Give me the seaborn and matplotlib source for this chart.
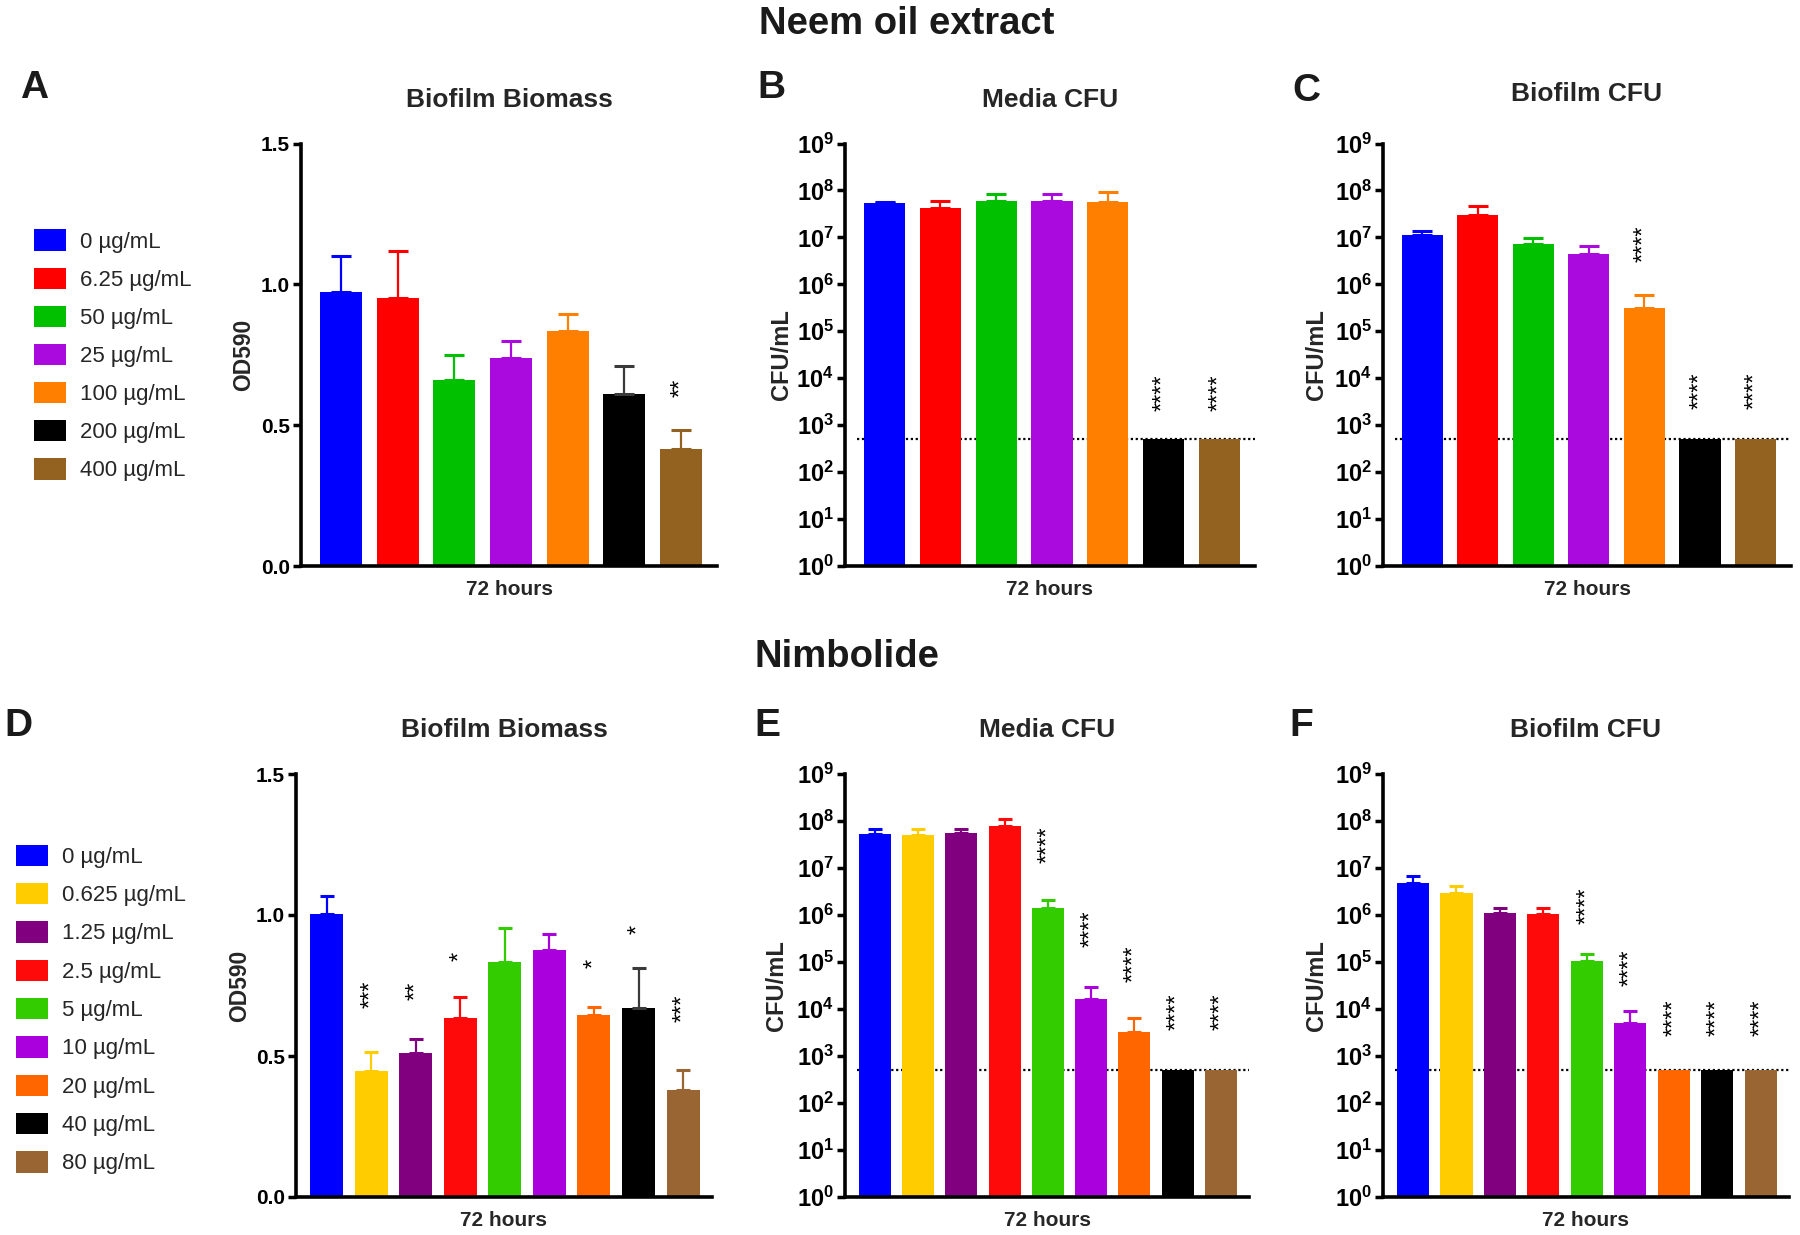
import numpy as np
import pandas as pd
import matplotlib
matplotlib.use('Agg')
import matplotlib.pyplot as plt
import seaborn as sns
from matplotlib.patches import Patch
from matplotlib.ticker import NullLocator, FuncFormatter, FixedLocator

sns.set_theme(style='white')
plt.rcParams['font.family'] = ['Liberation Sans', 'DejaVu Sans']
plt.rcParams['mathtext.fontset'] = 'custom'
plt.rcParams['mathtext.rm'] = 'Liberation Sans'
plt.rcParams['mathtext.bf'] = 'Liberation Sans:bold'
plt.rcParams['mathtext.it'] = 'Liberation Sans:italic'

# ---------------- data ----------------
neem_labels = ['0 µg/mL', '6.25 µg/mL', '50 µg/mL', '25 µg/mL',
               '100 µg/mL', '200 µg/mL', '400 µg/mL']
neem_colors = ['#0000FF', '#FF0000', '#00C000', '#AA0ADE',
               '#FF8000', '#000000', '#936220']
neem_biomass = [0.972, 0.950, 0.662, 0.739, 0.834, 0.610, 0.415]
neem_biomass_sd = [0.128, 0.169, 0.087, 0.061, 0.059, 0.099, 0.069]
neem_media = [5.3e7, 4.2e7, 6.0e7, 5.9e7, 5.6e7, 500, 500]
neem_media_sd = [0.3e7, 1.7e7, 2.3e7, 2.7e7, 3.6e7, 0, 0]
neem_biofilm = [1.12e7, 2.95e7, 7.1e6, 4.5e6, 3.2e5, 500, 500]
neem_biofilm_sd = [0.27e7, 1.75e7, 2.4e6, 2.1e6, 2.6e5, 0, 0]

nimb_labels = ['0 µg/mL', '0.625 µg/mL', '1.25 µg/mL', '2.5 µg/mL', '5 µg/mL',
               '10 µg/mL', '20 µg/mL', '40 µg/mL', '80 µg/mL']
nimb_colors = ['#0000FF', '#FFCC00', '#800080', '#FF0A0A', '#33CC00',
               '#AA00DD', '#FF6600', '#000000', '#996633']
nimb_biomass = [1.005, 0.447, 0.509, 0.635, 0.834, 0.876, 0.647, 0.669, 0.381]
nimb_biomass_sd = [0.064, 0.068, 0.052, 0.074, 0.119, 0.055, 0.025, 0.142, 0.071]
nimb_media = [5.4e7, 5.0e7, 5.6e7, 7.9e7, 1.39e6, 1.67e4, 3.3e3, 500, 500]
nimb_media_sd = [1.2e7, 1.9e7, 1.3e7, 3.1e7, 0.71e6, 1.33e4, 3.0e3, 0, 0]
nimb_biofilm = [4.7e6, 2.9e6, 1.1e6, 1.07e6, 1.07e5, 5.0e3, 500, 500, 500]
nimb_biofilm_sd = [1.9e6, 1.2e6, 0.33e6, 0.32e6, 0.38e5, 3.9e3, 0, 0, 0]

detection_limit = 500

stars_A = [(6, 0.633, '**')]
stars_B = [(5, 4.9e3, '****'), (6, 4.9e3, '****')]
stars_C = [(4, 7.4e6, '****'), (5, 5.5e3, '****'), (6, 5.5e3, '****')]
stars_D = [(1, 0.72, '***'), (2, 0.73, '**'), (3, 0.853, '*'),
           (6, 0.83, '*'), (7, 0.949, '*'), (8, 0.67, '***')]
stars_E = [(4, 3.2e7, '****'), (5, 5.0e5, '****'), (6, 9.1e4, '****'),
           (7, 8.7e3, '****'), (8, 8.7e3, '****')]
stars_F = [(4, 1.6e6, '****'), (5, 7.6e4, '****'), (6, 6.5e3, '****'),
           (7, 6.5e3, '****'), (8, 6.5e3, '****')]

# ---------------- figure ----------------
W, H = 1800, 1235
fig = plt.figure(figsize=(W / 100, H / 100), dpi=100)


def add_axes(left, right, top, bottom):
    return fig.add_axes([left / W, 1 - bottom / H, (right - left) / W, (bottom - top) / H])


def draw(ax, labels, values, sds, colors, log, stars, capsize, xlim,
         title, title_dy, ylabel, ylabel_dx):
    df = pd.DataFrame({'conc': labels, 'val': values})
    sns.barplot(data=df, x='conc', y='val', hue='conc', order=labels,
                hue_order=labels, palette=colors, width=0.74, saturation=1,
                legend=False, errorbar=None, ax=ax, linewidth=0, zorder=2)
    for i, (v, s, c) in enumerate(zip(values, sds, colors)):
        if s > 0:
            ec = '#3a3a3a' if c == '#000000' else c
            ax.errorbar(i, v, yerr=[[0], [s]], fmt='none', ecolor=ec,
                        elinewidth=1.6, capsize=capsize, capthick=2.2, zorder=3)
    if log:
        ax.set_yscale('log')
        ax.set_ylim(1, 1e9)
        ax.yaxis.set_major_locator(FixedLocator([10.0 ** k for k in range(10)]))
        ax.yaxis.set_minor_locator(NullLocator())
        ax.yaxis.set_major_formatter(
            FuncFormatter(lambda y, p: r'$\mathbf{10^{%d}}$' % int(round(np.log10(y)))))
        ax.axhline(detection_limit, xmin=0.03, xmax=1, color='black',
                   ls=(0, (1, 1.2)), lw=1.6, zorder=1)
        ax.tick_params(axis='y', labelsize=17)
        ylabel_size = 17
    else:
        ax.set_ylim(0, 1.5)
        ax.set_yticks([0, 0.5, 1.0, 1.5])
        ax.set_yticklabels(['0.0', '0.5', '1.0', '1.5'], fontweight='bold')
        ax.tick_params(axis='y', labelsize=15)
        ylabel_size = 16.5
    ax.set_xlim(*xlim)
    ax.set_xticks([])
    ax.set_xlabel('72 hours', fontsize=15, fontweight='bold')
    ax.xaxis.set_label_coords(0.5, -0.034)
    ax.set_ylabel(ylabel, fontsize=ylabel_size, fontweight='bold')
    ax.yaxis.set_label_coords(ylabel_dx, 0.5)
    ax.tick_params(axis='y', left=True, direction='out', length=6, width=2.5,
                   pad=2, colors='black')
    for lab in ax.get_yticklabels():
        lab.set_fontweight('bold')
    for sp in ['top', 'right']:
        ax.spines[sp].set_visible(False)
    for sp in ['left', 'bottom']:
        ax.spines[sp].set_linewidth(2.6)
        ax.spines[sp].set_color('black')
    for (i, y, t) in stars:
        ax.text(i, y, t, rotation=90, ha='center', va='center', fontsize=17,
                color='black', zorder=4)
    ax.text(0.5, 1 + title_dy, title, transform=ax.transAxes, ha='center',
            va='center', fontsize=19, fontweight='bold')


axA = add_axes(301, 717, 143.5, 566)
axB = add_axes(845, 1255, 143.5, 566)
axC = add_axes(1383, 1791, 143.5, 566)
axD = add_axes(296, 712, 774, 1197)
axE = add_axes(845, 1249, 774, 1197)
axF = add_axes(1383, 1789, 774, 1197)

xl7 = (-0.71, 6.64)
xl9 = (-0.69, 8.65)

draw(axA, neem_labels, neem_biomass, neem_biomass_sd, neem_colors, False, stars_A,
     7, xl7, 'Biofilm Biomass', 0.103, 'OD590', -0.11)
draw(axB, neem_labels, neem_media, neem_media_sd, neem_colors, True, stars_B,
     7.5, xl7, 'Media CFU', 0.103, 'CFU/mL', -0.128)
draw(axC, neem_labels, neem_biofilm, neem_biofilm_sd, neem_colors, True, stars_C,
     7.5, xl7, 'Biofilm CFU', 0.117, 'CFU/mL', -0.134)
draw(axD, nimb_labels, nimb_biomass, nimb_biomass_sd, nimb_colors, False, stars_D,
     5, xl9, 'Biofilm Biomass', 0.104, 'OD590', -0.108)
draw(axE, nimb_labels, nimb_media, nimb_media_sd, nimb_colors, True, stars_E,
     5, xl9, 'Media CFU', 0.104, 'CFU/mL', -0.141)
draw(axF, nimb_labels, nimb_biofilm, nimb_biofilm_sd, nimb_colors, True, stars_F,
     5, xl9, 'Biofilm CFU', 0.104, 'CFU/mL', -0.135)

# legends
fig.legend(handles=[Patch(facecolor=c, edgecolor='none') for c in neem_colors],
           labels=neem_labels, loc='upper left', bbox_to_anchor=(34 / W, 1 - 229.5 / H),
           frameon=False, fontsize=16, handlelength=1.45, handleheight=1.1,
           handletextpad=0.6, labelspacing=0.67, borderpad=0, borderaxespad=0)
fig.legend(handles=[Patch(facecolor=c, edgecolor='none') for c in nimb_colors],
           labels=nimb_labels, loc='upper left', bbox_to_anchor=(16 / W, 1 - 844.5 / H),
           frameon=False, fontsize=16, handlelength=1.45, handleheight=1.1,
           handletextpad=0.6, labelspacing=0.68, borderpad=0, borderaxespad=0)

# headings and panel letters
fig.text(907 / W, 1 - 24 / H, 'Neem oil extract', ha='center', va='center',
         fontsize=27.5, fontweight='bold', color='#1a1a1a')
fig.text(847 / W, 1 - 657 / H, 'Nimbolide', ha='center', va='center',
         fontsize=27.5, fontweight='bold', color='#1a1a1a')
for letter, x, y in [('A', 34, 88), ('B', 771, 88), ('C', 1306, 91),
                     ('D', 18, 726), ('E', 767, 726), ('F', 1301, 726)]:
    fig.text(x / W, 1 - y / H, letter, ha='center', va='center', fontsize=28,
             fontweight='bold', color='#1a1a1a')

fig.savefig('out.png', dpi=100)
